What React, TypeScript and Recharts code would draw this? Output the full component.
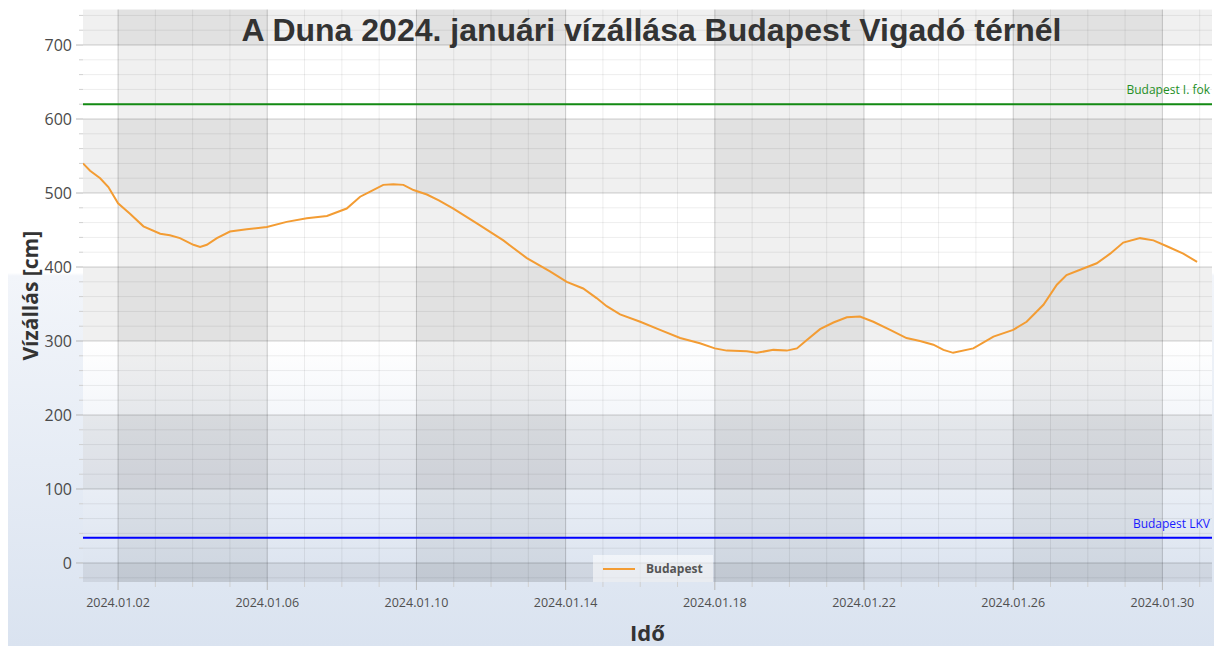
import React from "react";
import {
  ComposedChart,
  Line,
  XAxis,
  YAxis,
  ReferenceLine,
  ReferenceArea,
  Legend,
} from "recharts";

// time in days since 2024.01.01 00:00, water level in cm
const days = [
  0.06, 0.25, 0.52, 0.74, 1.0, 1.32, 1.68, 2.13, 2.39, 2.66, 3.02, 3.2, 3.38,
  3.65, 4.0, 4.45, 4.99, 5.52, 6.06, 6.6, 7.13, 7.49, 7.76, 8.11, 8.38, 8.65,
  8.92, 9.28, 9.6, 9.99, 10.62, 11.33, 11.96, 12.58, 13.03, 13.47, 13.83, 14.1,
  14.46, 15.0, 15.53, 16.07, 16.6, 17.0, 17.32, 17.86, 18.12, 18.57, 18.93,
  19.2, 19.46, 19.82, 20.18, 20.54, 20.89, 21.25, 21.7, 22.14, 22.5, 22.86,
  23.13, 23.39, 23.93, 24.47, 25.0, 25.36, 25.81, 26.17, 26.43, 26.88, 27.24,
  27.6, 27.95, 28.4, 28.76, 29.12, 29.56, 29.93,
];
const levels = [
  540, 530, 520, 508, 486, 472, 455, 445, 443, 439, 430, 427, 430, 439, 448,
  451, 454, 461, 466, 469, 479, 495, 502, 511, 512, 511, 504, 498, 490, 479,
  459, 436, 412, 394, 380, 371, 358, 347, 336, 326, 315, 304, 297, 290, 287,
  286, 284, 288, 287, 290, 301, 316, 325, 332, 333, 326, 315, 304, 300, 295,
  288, 284, 290, 306, 315, 326, 349, 376, 389, 398, 405, 418, 433, 439, 436,
  428, 418, 407,
];

const majorDays = [1, 5, 9, 13, 17, 21, 25, 29];
const dayLabels = [
  "2024.01.02", "2024.01.06", "2024.01.10", "2024.01.14",
  "2024.01.18", "2024.01.22", "2024.01.26", "2024.01.30",
];
const minorDays = [
  2, 3, 4, 6, 7, 8, 10, 11, 12, 14, 15, 16, 18, 19, 20, 22, 23, 24, 26, 27, 28, 30,
];
const majorLevels = [0, 100, 200, 300, 400, 500, 600, 700];
const minorLevels = [
  -20, 20, 40, 60, 80, 120, 140, 160, 180, 220, 240, 260, 280, 320, 340, 360,
  380, 420, 440, 460, 480, 520, 540, 560, 580, 620, 640, 660, 680, 720, 740,
];

const xDomain = [0.06, 30.33];
const yDomain = [-25.7, 748];

// alternating shaded bands (columns between major days, rows between hundreds)
const columnBands = [[1, 5], [9, 13], [17, 21], [25, 29]];
const rowBands = [[-25.7, 0], [100, 200], [300, 400], [500, 600], [700, 748]];

const firstLevel = 620; // Budapest I. fok
const lkvLevel = 34; // Budapest LKV

const data = days.map((d, i) => ({ day: d, level: levels[i] }));

const FONT = '"Open Sans", "Noto Sans", sans-serif';
const W = 1206;
const H = 638;

function DayTick(props: any) {
  const { x, y, payload } = props;
  const idx = majorDays.indexOf(payload.value);
  const major = idx >= 0;
  return (
    <g>
      <line x1={x} x2={x} y1={y} y2={y + (major ? 8 : 5)} stroke={major ? "#b8b8b8" : "#d0d0d0"} />
      {major && (
        <text x={x} y={y + 25} textAnchor="middle" fontSize={12.5} fill="#505050" fontFamily={FONT}>
          {dayLabels[idx]}
        </text>
      )}
    </g>
  );
}

function LevelTick(props: any) {
  const { x, y, payload } = props;
  const major = majorLevels.includes(payload.value);
  return (
    <g>
      <line x1={x - (major ? 7 : 4)} x2={x} y1={y} y2={y} stroke={major ? "#b8b8b8" : "#d0d0d0"} />
      {major && (
        <text x={x - 11} y={y} dy="0.38em" textAnchor="end" fontSize={16} fill="#4a4a4a" fontFamily={FONT}>
          {payload.value}
        </text>
      )}
    </g>
  );
}

function LegendBox(props: any) {
  const items = (props.payload || []).filter((p: any) => p.value === "Budapest");
  return (
    <div
      style={{
        width: 120,
        height: 27,
        background: "rgba(255,255,255,0.55)",
        display: "flex",
        alignItems: "center",
        boxSizing: "border-box",
        paddingLeft: 10,
      }}
    >
      {items.map((it: any) => (
        <React.Fragment key={it.value}>
          <span style={{ width: 32, height: 2, background: it.color, display: "inline-block" }} />
          <span style={{ marginLeft: 11, fontFamily: FONT, fontWeight: 700, fontSize: 12, color: "#555" }}>
            {it.value}
          </span>
        </React.Fragment>
      ))}
    </div>
  );
}

export default function App() {
  return (
    <div
      style={{
        position: "relative",
        width: W,
        height: H,
        background:
          "linear-gradient(180deg, #ffffff 0%, #ffffff 41.5%, #f2f5fa 42%, #dae3f0 100%)",
      }}
    >
      <style>{"html,body{overflow:hidden}"}</style>
      <ComposedChart
        width={W}
        height={H}
        data={data}
        margin={{ top: 1.5, right: 2, left: 0, bottom: 0 }}
      >
        <defs>
          <linearGradient id="plotBg" x1="0" y1="0" x2="0" y2="1">
            <stop offset="0" stopColor="#ffffff" />
            <stop offset="0.58" stopColor="#ffffff" />
            <stop offset="1" stopColor="#dbe3ef" />
          </linearGradient>
        </defs>
        <XAxis
          dataKey="day"
          type="number"
          domain={xDomain}
          allowDataOverflow
          ticks={[...majorDays, ...minorDays].sort((a, b) => a - b)}
          interval={0}
          tick={<DayTick />}
          tickLine={false}
          tickSize={0}
          tickMargin={0}
          axisLine={false}
          height={64}
          label={(p: any) => (
            <text
              x={p.viewBox.x + p.viewBox.width / 2}
              y={p.viewBox.y + 59}
              textAnchor="middle"
              fontSize={22}
              fontWeight={700}
              fill="#333"
              fontFamily={FONT}
            >
              Idő
            </text>
          )}
        />
        <YAxis
          type="number"
          domain={yDomain}
          allowDataOverflow
          ticks={[...majorLevels, ...minorLevels].sort((a, b) => a - b)}
          interval={0}
          tick={<LevelTick />}
          tickLine={false}
          tickSize={0}
          tickMargin={0}
          axisLine={false}
          width={75}
          label={(p: any) => {
            const cx = p.viewBox.x + 30;
            const cy = p.viewBox.y + p.viewBox.height / 2;
            return (
              <text
                x={cx}
                y={cy}
                transform={`rotate(-90, ${cx}, ${cy})`}
                textAnchor="middle"
                fontSize={21}
                fontWeight={700}
                fill="#333"
                fontFamily={FONT}
              >
                Vízállás [cm]
              </text>
            );
          }}
        />
        <ReferenceArea
          x1={xDomain[0]}
          x2={xDomain[1]}
          y1={yDomain[0]}
          y2={yDomain[1]}
          fill="url(#plotBg)"
          fillOpacity={1}
          stroke="none"
        />
        {columnBands.map(([a, b]) => (
          <ReferenceArea key={`c${a}`} x1={a} x2={b} fill="#000" fillOpacity={0.058} stroke="none" />
        ))}
        {rowBands.map(([a, b]) => (
          <ReferenceArea key={`r${a}`} y1={a} y2={b} fill="#000" fillOpacity={0.058} stroke="none" />
        ))}
        {minorLevels.map((v) => (
          <ReferenceLine key={`ml${v}`} y={v} stroke="#000" strokeOpacity={0.07} strokeWidth={1} />
        ))}
        {minorDays.map((d) => (
          <ReferenceLine key={`md${d}`} x={d} stroke="#000" strokeOpacity={0.07} strokeWidth={1} />
        ))}
        {majorLevels.map((v) => (
          <ReferenceLine key={`Ml${v}`} y={v} stroke="#000" strokeOpacity={0.19} strokeWidth={1} />
        ))}
        {majorDays.map((d) => (
          <ReferenceLine key={`Md${d}`} x={d} stroke="#000" strokeOpacity={0.19} strokeWidth={1} />
        ))}
        <ReferenceLine
          y={firstLevel}
          stroke="#138a13"
          strokeWidth={2}
          label={(p: any) => (
            <text
              x={p.viewBox.x + p.viewBox.width - 2}
              y={p.viewBox.y - 10}
              textAnchor="end"
              fontSize={12}
              fill="#1f8f1f"
              fontFamily={FONT}
            >
              Budapest I. fok
            </text>
          )}
        />
        <ReferenceLine
          y={lkvLevel}
          stroke="#0000ff"
          strokeWidth={2}
          label={(p: any) => (
            <text
              x={p.viewBox.x + p.viewBox.width - 2}
              y={p.viewBox.y - 10}
              textAnchor="end"
              fontSize={12}
              fill="#1a1aff"
              fontFamily={FONT}
            >
              Budapest LKV
            </text>
          )}
        />
        <Line
          name="Budapest"
          dataKey="level"
          type="linear"
          stroke="#f39c33"
          strokeWidth={2}
          dot={false}
          activeDot={false}
          isAnimationActive={false}
        />
        <Legend
          layout="horizontal"
          verticalAlign="middle"
          align="center"
          wrapperStyle={{ left: 585, top: 547, width: 120, height: 27 }}
          content={<LegendBox />}
        />
      </ComposedChart>
      <div
        style={{
          position: "absolute",
          left: 0,
          top: 6,
          width: 1287,
          textAlign: "center",
          fontFamily: '"Liberation Sans", Arial, sans-serif',
          fontWeight: 700,
          fontSize: 32,
          lineHeight: "32px",
          color: "#333",
          pointerEvents: "none",
          whiteSpace: "nowrap",
        }}
      >
        A Duna 2024. januári vízállása Budapest Vigadó térnél
      </div>
    </div>
  );
}
